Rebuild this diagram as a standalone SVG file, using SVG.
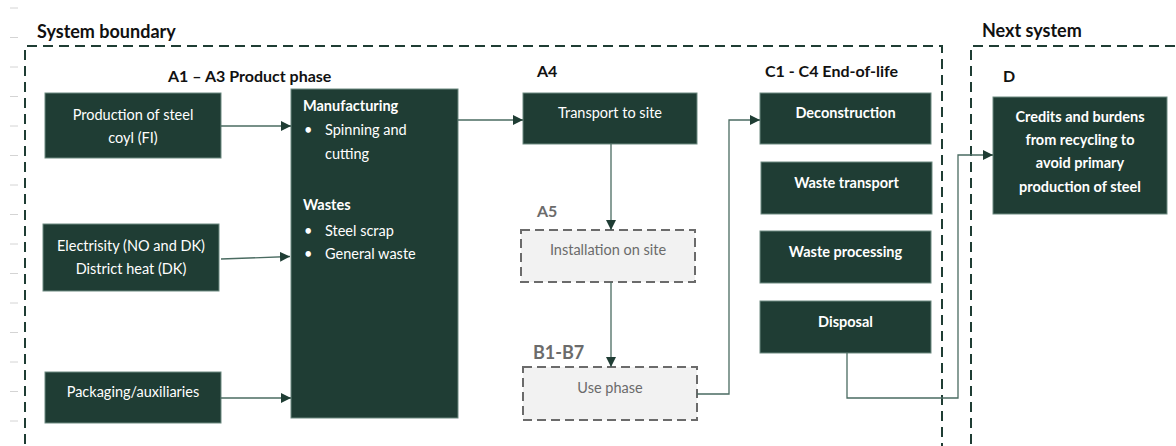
<svg xmlns="http://www.w3.org/2000/svg" width="1176" height="446" viewBox="0 0 1176 446">
<defs>
<marker id="ah" viewBox="0 0 10 10" refX="10" refY="5" markerWidth="10" markerHeight="10" markerUnits="userSpaceOnUse" orient="auto">
<path d="M0,0 L10,5 L0,10 z" fill="#1f3d34"/>
</marker>
<style>
.t{font-family:Lato,"Noto Sans","Liberation Sans",sans-serif}
.box{fill:#1f3d34;stroke:#6d8a80;stroke-width:1}
.gbox{fill:#f2f2f2;stroke:#6b6b6b;stroke-width:2;stroke-dasharray:9 5}
.w{fill:#ffffff;font-size:14.5px}
.wb{fill:#ffffff;font-size:14.5px;font-weight:bold}
.g{fill:#6b6b6b;font-size:14.5px}
.h{fill:#111111;font-size:16px;font-weight:bold}
.big{fill:#111111;font-size:18px;font-weight:bold}
.bound{fill:none;stroke:#1f3d34;stroke-width:2;stroke-dasharray:10 6}
.c{fill:none;stroke:#4a6b61;stroke-width:1.3}
.tick{stroke:#d4d4d4;stroke-width:1}
</style>
</defs>
<rect width="1176" height="446" fill="#ffffff"/>
<g id="ticks">
<line class="tick" x1="10" y1="8" x2="18" y2="8"/>
<line class="tick" x1="10" y1="37.5" x2="18" y2="37.5"/>
<line class="tick" x1="10" y1="67" x2="18" y2="67"/>
<line class="tick" x1="10" y1="96.5" x2="18" y2="96.5"/>
<line class="tick" x1="10" y1="126" x2="18" y2="126"/>
<line class="tick" x1="10" y1="155.5" x2="18" y2="155.5"/>
<line class="tick" x1="10" y1="185" x2="18" y2="185"/>
<line class="tick" x1="10" y1="214.5" x2="18" y2="214.5"/>
<line class="tick" x1="10" y1="244" x2="18" y2="244"/>
<line class="tick" x1="10" y1="273.5" x2="18" y2="273.5"/>
<line class="tick" x1="10" y1="303" x2="18" y2="303"/>
<line class="tick" x1="10" y1="332.5" x2="18" y2="332.5"/>
<line class="tick" x1="10" y1="362" x2="18" y2="362"/>
<line class="tick" x1="10" y1="391.5" x2="18" y2="391.5"/>
<line class="tick" x1="10" y1="421" x2="18" y2="421"/>
</g>
<g id="system-boundary">
<path class="bound" d="M25,460 L25,46 L942,46 L942,460"/>
<text class="t big" x="37" y="38">System boundary</text>
</g>
<g id="next-system">
<path class="bound" d="M971,460 L971,46 L1190,46"/>
<text class="t big" x="982" y="37">Next system</text>
</g>
<g id="labels">
<text class="t h" x="168" y="82">A1 – A3 Product phase</text>
<text class="t h" x="537" y="77">A4</text>
<text class="t h" x="765" y="77">C1 - C4 End-of-life</text>
<text class="t h" x="1003" y="82">D</text>
<text class="t" x="537" y="217" style="fill:#6b6b6b;font-size:16px;font-weight:bold">A5</text>
<text class="t" x="533" y="359" style="fill:#6b6b6b;font-size:18px;font-weight:bold">B1-B7</text>
</g>
<g id="n-steel">
<rect class="box" x="45" y="93" width="176" height="65"/>
<text class="t w" x="133" y="120" text-anchor="middle">Production of steel</text>
<text class="t w" x="133" y="143" text-anchor="middle">coyl (FI)</text>
</g>
<g id="n-energy">
<rect class="box" x="43" y="224" width="176" height="67"/>
<text class="t w" x="131" y="251" text-anchor="middle">Electrisity (NO and DK)</text>
<text class="t w" x="131" y="274" text-anchor="middle">District heat (DK)</text>
</g>
<g id="n-packaging">
<rect class="box" x="45" y="372" width="176" height="51"/>
<text class="t w" x="133" y="397" text-anchor="middle">Packaging/auxiliaries</text>
</g>
<g id="n-manufacturing">
<rect class="box" x="291" y="89" width="167" height="329"/>
<text class="t wb" x="303" y="111">Manufacturing</text>
<text class="t w" x="304" y="135">•</text>
<text class="t w" x="325" y="135">Spinning and</text>
<text class="t w" x="325" y="159">cutting</text>
<text class="t wb" x="303" y="210">Wastes</text>
<text class="t w" x="304" y="236">•</text>
<text class="t w" x="325" y="236">Steel scrap</text>
<text class="t w" x="304" y="259">•</text>
<text class="t w" x="325" y="259">General waste</text>
</g>
<g id="n-transport">
<rect class="box" x="523" y="93" width="174" height="51"/>
<text class="t w" x="610" y="118" text-anchor="middle">Transport to site</text>
</g>
<g id="n-installation">
<rect class="gbox" x="521" y="230" width="174" height="52"/>
<text class="t g" x="608" y="255" text-anchor="middle">Installation on site</text>
</g>
<g id="n-use">
<rect class="gbox" x="523" y="367" width="174" height="53"/>
<text class="t g" x="610" y="393" text-anchor="middle">Use phase</text>
</g>
<g id="n-deconstruction">
<rect class="box" x="760" y="93" width="171" height="51"/>
<text class="t wb" x="845.5" y="118" text-anchor="middle">Deconstruction</text>
</g>
<g id="n-waste-transport">
<rect class="box" x="761" y="162" width="171" height="52"/>
<text class="t wb" x="846.5" y="188" text-anchor="middle">Waste transport</text>
</g>
<g id="n-waste-processing">
<rect class="box" x="760" y="231" width="171" height="52"/>
<text class="t wb" x="845.5" y="257" text-anchor="middle">Waste processing</text>
</g>
<g id="n-disposal">
<rect class="box" x="760" y="301" width="171" height="52"/>
<text class="t wb" x="845.5" y="327" text-anchor="middle">Disposal</text>
</g>
<g id="n-d">
<rect class="box" x="993" y="97" width="174" height="117"/>
<text class="t wb" x="1080" y="122" text-anchor="middle">Credits and burdens</text>
<text class="t wb" x="1080" y="145" text-anchor="middle">from recycling to</text>
<text class="t wb" x="1080" y="168" text-anchor="middle">avoid primary</text>
<text class="t wb" x="1080" y="192" text-anchor="middle">production of steel</text>
</g>
<g id="connectors">
<path class="c" d="M221,126 L291,126" marker-end="url(#ah)"/>
<path class="c" d="M221,259 L290,256.5" marker-end="url(#ah)"/>
<path class="c" d="M221,398 L291,398" marker-end="url(#ah)"/>
<path class="c" d="M458,120 L523,120" marker-end="url(#ah)"/>
<path class="c" d="M611,144 L611,230" marker-end="url(#ah)"/>
<path class="c" d="M611,282 L611,367" marker-end="url(#ah)"/>
<path class="c" d="M697,394 L729,394 L729,120 L760,120" marker-end="url(#ah)"/>
<path class="c" d="M847,353 L847,398 L958,398 L958,155 L993,155" marker-end="url(#ah)"/>
</g>
</svg>
